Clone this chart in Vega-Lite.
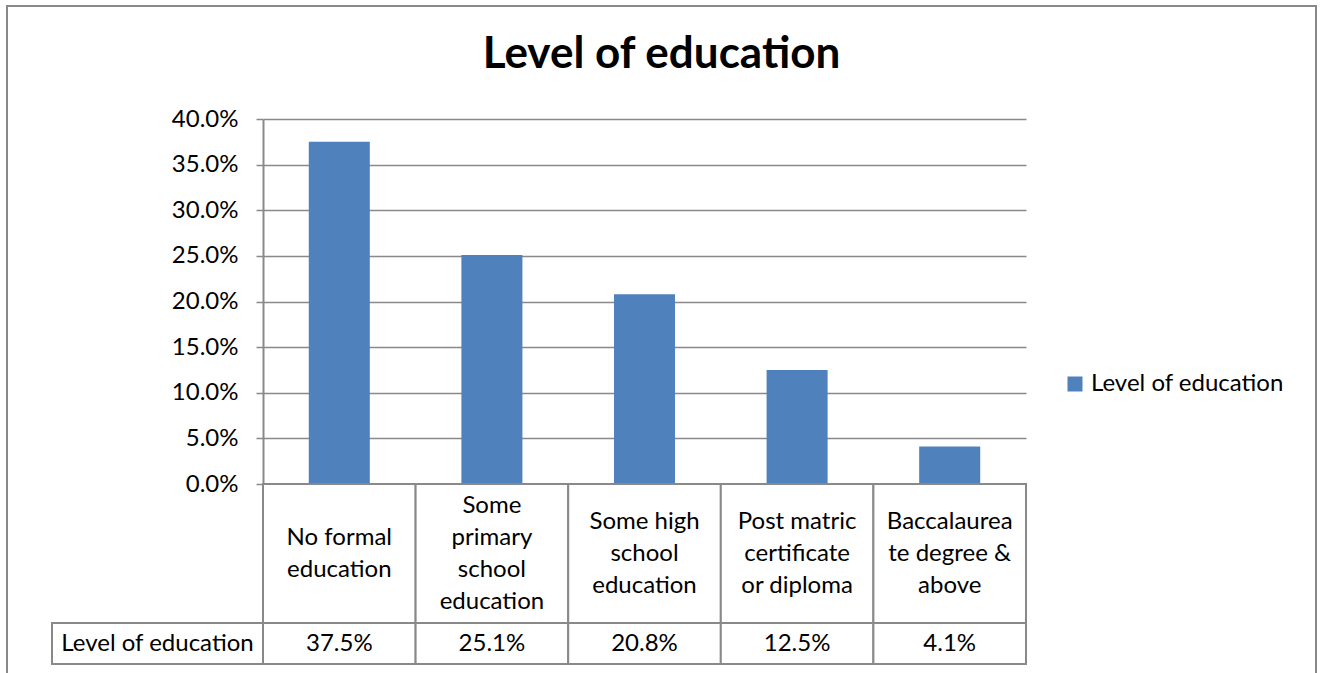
{
  "$schema": "https://vega.github.io/schema/vega-lite/v6.json",
  "width": 1309,
  "height": 669,
  "autosize": {"type": "none"},
  "padding": {"left": 7, "top": 6, "right": 6, "bottom": 0},
  "background": "white",
  "config": {
    "view": {"stroke": "#898989", "strokeWidth": 2},
    "font": "Lato"
  },
  "title": {
    "text": "Level of education",
    "font": "Lato",
    "fontSize": 44,
    "fontWeight": "bold",
    "color": "black",
    "anchor": "middle",
    "frame": "group",
    "baseline": "alphabetic",
    "offset": -106
  },
  "data": {
    "values": [
      {"level": "No formal education", "label": "No formal\neducation", "share": 0.375, "series": "Level of education"},
      {"level": "Some primary school education", "label": "Some\nprimary\nschool\neducation", "share": 0.251, "series": "Level of education"},
      {"level": "Some high school education", "label": "Some high\nschool\neducation", "share": 0.208, "series": "Level of education"},
      {"level": "Post matric certificate or diploma", "label": "Post matric\ncertificate\nor diploma", "share": 0.125, "series": "Level of education"},
      {"level": "Baccalaureate degree & above", "label": "Baccalaurea\nte degree &\nabove", "share": 0.041, "series": "Level of education"}
    ]
  },
  "layer": [
    {
      "mark": {"type": "bar"},
      "encoding": {
        "x": {
          "field": "level", "type": "nominal", "sort": null,
          "scale": {"type": "band", "range": [256, 1019], "paddingInner": 0.6, "paddingOuter": 0.3},
          "axis": null
        },
        "y": {
          "field": "share", "type": "quantitative",
          "scale": {"domain": [0, 0.4], "range": [478, 113], "nice": false},
          "axis": {
            "orient": "left",
            "offset": -256,
            "values": [0, 0.05, 0.1, 0.15, 0.2, 0.25, 0.3, 0.35, 0.4],
            "format": ".1%",
            "title": null,
            "grid": true,
            "gridColor": "#898989",
            "gridWidth": 1.5,
            "domainColor": "#898989",
            "domainWidth": 2,
            "tickColor": "#898989",
            "tickWidth": 1.5,
            "tickSize": 7,
            "labelFont": "Lato",
            "labelFontSize": 24,
            "labelColor": "black",
            "labelPadding": 18
          }
        },
        "color": {
          "field": "series", "type": "nominal",
          "scale": {"range": ["#4F81BD"]},
          "legend": {
            "orient": "none",
            "legendX": 1056,
            "legendY": 366,
            "title": null,
            "padding": 0,
            "symbolType": "square",
            "symbolSize": 225,
            "symbolStrokeWidth": 0,
            "labelFont": "Lato",
            "labelFontSize": 24,
            "labelColor": "black",
            "labelOffset": 4,
            "labelLimit": 0
          }
        }
      }
    },
    {
      "mark": {"type": "rect", "fill": "white", "stroke": "#898989", "strokeWidth": 2},
      "encoding": {
        "x": {"field": "level", "type": "nominal", "sort": null, "scale": {"type": "band", "domain": ["No formal education", "Some primary school education", "Some high school education", "Post matric certificate or diploma", "Baccalaureate degree & above"], "range": [256, 1019], "padding": 0}, "axis": null},
        "y": {"datum": "category", "type": "nominal", "scale": {"type": "band", "domain": ["category"], "range": [478, 617], "padding": 0}, "axis": null}
      }
    },
    {
      "transform": [{"filter": "length(split(datum.label, '\\n')) == 2"}],
      "mark": {"type": "text", "font": "Lato", "fontSize": 24, "lineHeight": 32, "lineBreak": "\n", "align": "center", "baseline": "middle", "color": "black", "dy": -16},
      "encoding": {
        "x": {"field": "level", "type": "nominal", "sort": null, "scale": {"type": "band", "domain": ["No formal education", "Some primary school education", "Some high school education", "Post matric certificate or diploma", "Baccalaureate degree & above"], "range": [256, 1019], "padding": 0}, "axis": null},
        "y": {"datum": "category", "type": "nominal", "scale": {"type": "band", "domain": ["category"], "range": [478, 617], "padding": 0}, "axis": null},
        "text": {"field": "label", "type": "nominal"}
      }
    },
    {
      "transform": [{"filter": "length(split(datum.label, '\\n')) == 3"}],
      "mark": {"type": "text", "font": "Lato", "fontSize": 24, "lineHeight": 32, "lineBreak": "\n", "align": "center", "baseline": "middle", "color": "black", "dy": -32},
      "encoding": {
        "x": {"field": "level", "type": "nominal", "sort": null, "scale": {"type": "band", "domain": ["No formal education", "Some primary school education", "Some high school education", "Post matric certificate or diploma", "Baccalaureate degree & above"], "range": [256, 1019], "padding": 0}, "axis": null},
        "y": {"datum": "category", "type": "nominal", "scale": {"type": "band", "domain": ["category"], "range": [478, 617], "padding": 0}, "axis": null},
        "text": {"field": "label", "type": "nominal"}
      }
    },
    {
      "transform": [{"filter": "length(split(datum.label, '\\n')) == 4"}],
      "mark": {"type": "text", "font": "Lato", "fontSize": 24, "lineHeight": 32, "lineBreak": "\n", "align": "center", "baseline": "middle", "color": "black", "dy": -48},
      "encoding": {
        "x": {"field": "level", "type": "nominal", "sort": null, "scale": {"type": "band", "domain": ["No formal education", "Some primary school education", "Some high school education", "Post matric certificate or diploma", "Baccalaureate degree & above"], "range": [256, 1019], "padding": 0}, "axis": null},
        "y": {"datum": "category", "type": "nominal", "scale": {"type": "band", "domain": ["category"], "range": [478, 617], "padding": 0}, "axis": null},
        "text": {"field": "label", "type": "nominal"}
      }
    },
    {
      "mark": {"type": "rect", "fill": "white", "stroke": "#898989", "strokeWidth": 2},
      "encoding": {
        "x": {"field": "level", "type": "nominal", "sort": null, "scale": {"type": "band", "domain": ["No formal education", "Some primary school education", "Some high school education", "Post matric certificate or diploma", "Baccalaureate degree & above"], "range": [256, 1019], "padding": 0}, "axis": null},
        "y": {"datum": "value", "type": "nominal", "scale": {"type": "band", "domain": ["value"], "range": [617, 658], "padding": 0}, "axis": null}
      }
    },
    {
      "mark": {"type": "text", "font": "Lato", "fontSize": 24, "align": "center", "baseline": "middle", "color": "black"},
      "encoding": {
        "x": {"field": "level", "type": "nominal", "sort": null, "scale": {"type": "band", "domain": ["No formal education", "Some primary school education", "Some high school education", "Post matric certificate or diploma", "Baccalaureate degree & above"], "range": [256, 1019], "padding": 0}, "axis": null},
        "y": {"datum": "value", "type": "nominal", "scale": {"type": "band", "domain": ["value"], "range": [617, 658], "padding": 0}, "axis": null},
        "text": {"field": "share", "type": "quantitative", "format": ".1%"}
      }
    },
    {
      "transform": [{"aggregate": [{"op": "count", "as": "n"}], "groupby": ["series"]}],
      "mark": {"type": "rect", "fill": "white", "stroke": "#898989", "strokeWidth": 2},
      "encoding": {
        "x": {"field": "series", "type": "nominal", "scale": {"type": "band", "range": [45, 256], "padding": 0}, "axis": null},
        "y": {"datum": "value", "type": "nominal", "scale": {"type": "band", "domain": ["value"], "range": [617, 658], "padding": 0}, "axis": null}
      }
    },
    {
      "transform": [{"aggregate": [{"op": "count", "as": "n"}], "groupby": ["series"]}],
      "mark": {"type": "text", "font": "Lato", "fontSize": 24, "align": "center", "baseline": "middle", "color": "black"},
      "encoding": {
        "x": {"field": "series", "type": "nominal", "scale": {"type": "band", "range": [45, 256], "padding": 0}, "axis": null},
        "y": {"datum": "value", "type": "nominal", "scale": {"type": "band", "domain": ["value"], "range": [617, 658], "padding": 0}, "axis": null},
        "text": {"field": "series", "type": "nominal"}
      }
    }
  ],
  "resolve": {
    "scale": {"x": "independent", "y": "independent", "color": "independent"},
    "axis": {"x": "independent", "y": "independent"}
  }
}
